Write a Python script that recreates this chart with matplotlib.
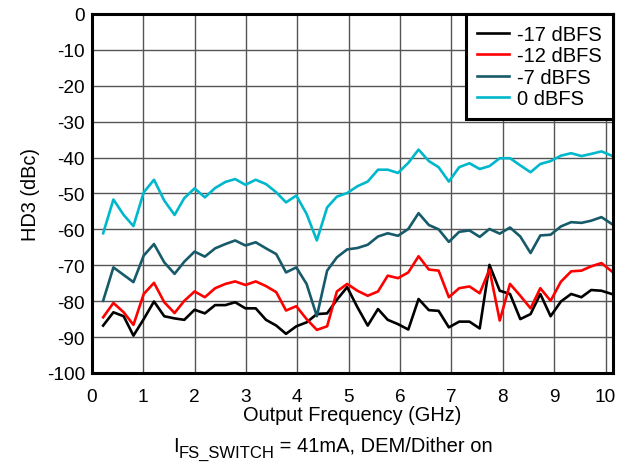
import matplotlib
matplotlib.use("Agg")
import matplotlib.pyplot as plt
from matplotlib.transforms import offset_copy

plt.rcParams['font.family'] = ['Liberation Sans', 'DejaVu Sans']
plt.rcParams['axes.unicode_minus'] = False

# output frequency (GHz)
freq_ghz = [0.22, 0.42, 0.62, 0.81, 1.01, 1.21, 1.41, 1.61, 1.80, 2.00,
            2.20, 2.40, 2.60, 2.79, 2.99, 3.19, 3.39, 3.59, 3.78, 3.98,
            4.18, 4.38, 4.58, 4.77, 4.97, 5.17, 5.37, 5.57, 5.76, 5.96,
            6.16, 6.36, 6.56, 6.75, 6.95, 7.15, 7.35, 7.55, 7.74, 7.94,
            8.14, 8.34, 8.54, 8.73, 8.93, 9.13, 9.33, 9.53, 9.72, 9.92,
            10.12]

# HD3 (dBc) for each output level
hd3_m17 = [-86.8, -83.1, -84.2, -89.6, -85.0, -80.1, -84.2, -84.8, -85.2, -82.4,
           -83.4, -81.1, -81.1, -80.3, -82.0, -82.0, -85.2, -86.8, -89.1, -87.0,
           -85.9, -83.6, -83.4, -79.6, -76.1, -81.7, -86.8, -82.2, -85.2, -86.4,
           -87.9, -79.4, -82.5, -82.7, -87.3, -85.7, -85.7, -87.6, -69.9, -77.1,
           -78.0, -85.0, -83.6, -78.0, -84.2, -80.1, -78.0, -78.9, -76.9, -77.1,
           -78.0]
hd3_m12 = [-84.5, -80.5, -83.1, -86.6, -78.0, -74.9, -80.3, -83.3, -79.9, -77.3,
           -78.9, -76.4, -75.2, -74.5, -75.5, -74.5, -75.8, -77.5, -82.6, -81.4,
           -85.0, -88.0, -87.0, -77.3, -75.2, -77.1, -78.5, -77.3, -72.9, -73.6,
           -72.0, -67.5, -71.2, -71.5, -78.9, -76.4, -75.9, -77.8, -71.2, -85.4,
           -75.2, -78.5, -82.0, -76.4, -79.9, -74.6, -71.7, -71.5, -70.3, -69.4,
           -71.7]
hd3_m7 = [-79.9, -70.6, -72.7, -74.7, -67.3, -64.1, -69.2, -72.4, -69.0, -66.2,
          -67.6, -65.3, -64.1, -63.1, -64.5, -63.6, -65.3, -66.9, -72.0, -70.6,
          -75.2, -84.2, -71.5, -67.8, -65.6, -65.2, -64.3, -62.0, -61.1, -61.8,
          -59.9, -55.5, -58.8, -60.0, -63.5, -60.7, -60.3, -62.1, -59.9, -61.2,
          -59.5, -62.0, -66.6, -61.7, -61.5, -59.2, -58.0, -58.2, -57.6, -56.6,
          -58.5]
hd3_0 = [-61.1, -51.7, -56.0, -59.1, -49.7, -46.2, -52.0, -56.0, -51.3, -48.6,
         -51.1, -48.5, -46.8, -46.0, -47.6, -46.2, -47.4, -49.7, -52.5, -50.6,
         -55.7, -63.1, -53.9, -50.9, -49.9, -48.0, -46.7, -43.4, -43.4, -44.3,
         -41.5, -37.8, -41.0, -42.7, -46.7, -42.7, -41.6, -43.2, -42.4, -40.2,
         -40.2, -42.2, -44.1, -41.8, -41.0, -39.5, -38.8, -39.6, -39.0, -38.3,
         -39.5]

labels = ['-17 dBFS', '-12 dBFS', '-7 dBFS', '0 dBFS']
colors = ['#000000', '#ff0000', '#175a6a', '#00b8cc']

fig = plt.figure(figsize=(6.29, 4.64), dpi=100)
ax = fig.add_axes([0.146, 0.194, 0.829, 0.774])

for ys, lab, c in zip([hd3_m17, hd3_m12, hd3_m7, hd3_0], labels, colors):
    ax.plot(freq_ghz, ys, color=c, linewidth=1.9, label=lab)

ax.set_xlim(0, 10.15)
ax.set_ylim(-100, 0)
ax.set_xticks(range(0, 11))
ax.set_yticks(range(-100, 1, 10))
ax.grid(True, color='#555555', linewidth=1.0)
ax.set_axisbelow(True)
ax.tick_params(labelsize=13.7, length=0)
ax.tick_params(axis='x', pad=11)
ax.tick_params(axis='y', pad=5)
for sp in ax.spines.values():
    sp.set_linewidth(2.2)

ax.set_xlabel('Output Frequency (GHz)', fontsize=14.4, labelpad=0)
ax.set_ylabel('HD3 (dBc)', fontsize=14.4, labelpad=5)

leg = ax.legend(loc='upper right', fontsize=14.5, borderaxespad=0, fancybox=False,
                framealpha=1, edgecolor='black', handlelength=1.6,
                handletextpad=0.4, labelspacing=0.12, borderpad=0.55)
leg.get_frame().set_linewidth(2.2)

# caption with a larger-than-mathtext subscript, built from three pieces
fig.canvas.draw()
r = fig.canvas.get_renderer()
t1 = fig.text(0.275, 0.026, 'I', fontsize=14.5, ha='left', va='baseline')
w1 = t1.get_window_extent(r).width
t2 = fig.text(0.275, 0.026, 'FS_SWITCH', fontsize=12,
              transform=offset_copy(fig.transFigure, fig=fig, x=w1 * 72 / fig.dpi, y=-4, units='points'),
              ha='left', va='baseline')
w2 = t2.get_window_extent(r).width
fig.text(0.275, 0.026, ' = 41mA, DEM/Dither on', fontsize=14.5,
         transform=offset_copy(fig.transFigure, fig=fig, x=(w1 + w2) * 72 / fig.dpi, y=0, units='points'),
         ha='left', va='baseline')

fig.savefig('out.png')
